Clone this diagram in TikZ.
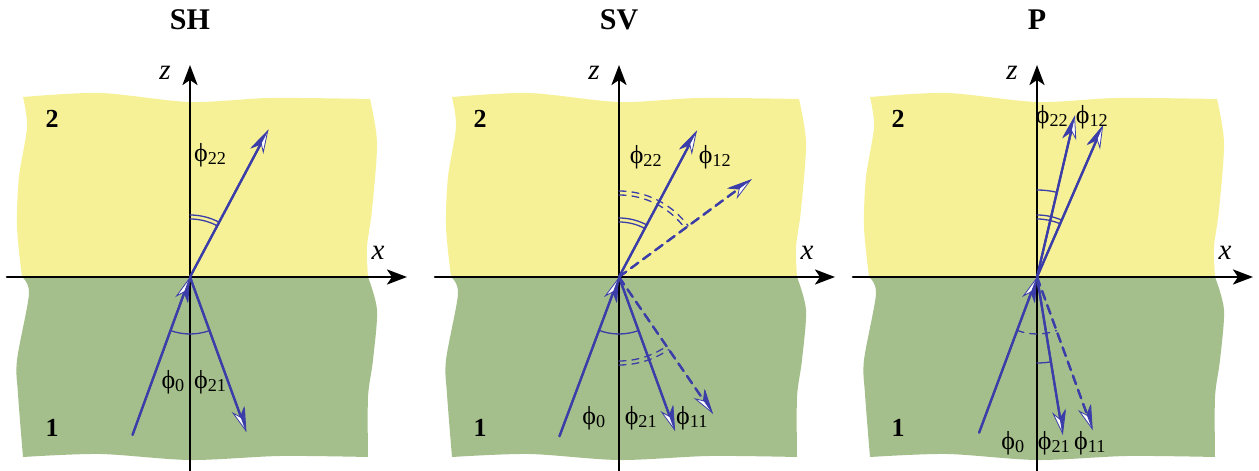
\documentclass[tikz,border=0pt]{standalone}
\usepackage{fontspec}
\setmainfont{Liberation Serif}
\usetikzlibrary{arrows.meta}
\definecolor{wvBlue}{HTML}{3B3DA8}
\definecolor{wvYellow}{HTML}{F6F196}
\definecolor{wvGreen}{HTML}{A4BF8B}
\newcommand{\ph}[1]{ϕ\textsubscript{#1}}
\newcommand{\slabs}{%
  \fill[wvYellow] (-168,0)
    -- plot[smooth] coordinates {(-168,0) (-173,50) (-171,100) (-163,150) (-167,180)}
    -- plot[smooth] coordinates {(-167,180) (-90,184) (0,175) (80,179) (180,178)}
    -- plot[smooth] coordinates {(180,178) (187,134) (182,67) (177,30) (178,0)} -- cycle;
  \fill[wvGreen] (-168,0) -- (178,0)
    -- plot[smooth] coordinates {(178,0) (187,-33) (183,-83) (178,-120) (178,-180)}
    -- plot[smooth] coordinates {(178,-180) (90,-179) (0,-183) (-90,-177) (-167,-180)}
    -- plot[smooth] coordinates {(-167,-180) (-172,-117) (-173,-83) (-161,-17) (-168,0)} -- cycle;
}

\begin{document}
\begin{tikzpicture}[x=1pt, y=1pt, line cap=round, line join=round,
    axis/.style={black, line width=2.6pt, -{Stealth[length=20pt, width=15pt, inset=5pt]}},
    tipw/.style={-{Stealth[length=24pt, width=14pt, inset=8pt, line width=0.8pt, fill=white]}},
    ray/.style={wvBlue, line width=2.2pt, tipw,
      postaction={draw, -{Stealth[harpoon, length=24pt, width=14pt, inset=8pt, line width=0.8pt, fill=wvBlue]}}},
    inray/.style={wvBlue, line width=2.2pt, tipw,
      postaction={draw, -{Stealth[harpoon, swap, length=24pt, width=14pt, inset=8pt, line width=0.8pt, fill=wvBlue]}}},
    dray/.style={ray, dash pattern=on 9pt off 6pt},
    angarc/.style={wvBlue, line width=1.3pt},
    dangarc/.style={angarc, dash pattern=on 7pt off 6pt},
    lbl/.style={font=\fontsize{26}{30}\selectfont, inner sep=0pt},
    axlbl/.style={font=\fontsize{29}{32}\selectfont\itshape, inner sep=0pt},
    medium/.style={font=\fontsize{26}{28}\selectfont\bfseries, inner sep=0pt},
    wavetitle/.style={font=\fontsize{30}{32}\selectfont\bfseries, inner sep=0pt}]
  \useasboundingbox (0,0) rectangle (1259,471);

  % ── SH ────────────────────────────────────────────────────────────────
  \begin{scope}[shift={(190,194)}]
    \slabs
    \draw[axis] (-183,0) -- (217,0);
    \draw[axis] (0,-194) -- (0,212);
    \node[axlbl] (zSH) at (-25,204) {z};
    \node[axlbl] (xSH) at (188,24) {x};
    \node[wavetitle] (tSH) at (0,257) {SH};
    \node[medium] at (-138,158) {2};
    \node[medium] at (-138,-151) {1};
    \coordinate (O) at (0,0);
    \coordinate (inc) at (-110:168);
    \coordinate (r21) at (-70:165);
    \coordinate (t22) at (62:167);
    \draw[angarc] (-110:57) arc[start angle=-110, end angle=-70, radius=57];
    \draw[angarc] (90:58) arc[start angle=90, end angle=62, radius=58]
                  (90:62) arc[start angle=90, end angle=62, radius=62];
    \draw[inray] (inc) -- (O);
    \draw[ray] (O) -- (r21);
    \draw[ray] (O) -- (t22);
    \node[lbl, anchor=west] at (4,122) {\ph{22}};
    \node[lbl, anchor=east] at (-5,-105) {\ph{0}};
    \node[lbl, anchor=west] at (4,-105) {\ph{21}};
  \end{scope}

  % ── SV ────────────────────────────────────────────────────────────────
  \begin{scope}[shift={(619,194)}]
    \slabs
    \draw[axis] (-184,0) -- (216,0);
    \draw[axis] (0,-194) -- (0,212);
    \node[axlbl] (zSV) at (-25,204) {z};
    \node[axlbl] (xSV) at (188,24) {x};
    \node[wavetitle] (tSV) at (0,257) {SV};
    \node[medium] at (-139,158) {2};
    \node[medium] at (-139,-151) {1};
    \coordinate (O) at (0,0);
    \coordinate (inc) at (-110.5:170);
    \coordinate (r21) at (-70:164);
    \coordinate (r11) at (-55.5:166);
    \coordinate (t22) at (62:166);
    \coordinate (t12) at (36.4:165);
    \draw[angarc] (-110.5:57) arc[start angle=-110.5, end angle=-70, radius=57];
    \draw[dangarc] (-90:84) arc[start angle=-90, end angle=-55.5, radius=84]
                   (-90:88) arc[start angle=-90, end angle=-55.5, radius=88];
    \draw[angarc] (90:55) arc[start angle=90, end angle=62, radius=55]
                  (90:59) arc[start angle=90, end angle=62, radius=59];
    \draw[dangarc] (90:82) arc[start angle=90, end angle=36.4, radius=82]
                   (90:86) arc[start angle=90, end angle=36.4, radius=86];
    \draw[inray] (inc) -- (O);
    \draw[ray] (O) -- (r21);
    \draw[dray] (O) -- (r11);
    \draw[ray] (O) -- (t22);
    \draw[dray] (O) -- (t12);
    \node[lbl] at (27,120) {\ph{22}};
    \node[lbl] at (96,120) {\ph{12}};
    \node[lbl] at (-25,-141) {\ph{0}};
    \node[lbl] at (22,-141) {\ph{21}};
    \node[lbl] at (73,-141) {\ph{11}};
  \end{scope}

  % ── P ─────────────────────────────────────────────────────────────────
  \begin{scope}[shift={(1037,194)}]
    \slabs
    \draw[axis] (-184,0) -- (216,0);
    \draw[axis] (0,-194) -- (0,212);
    \node[axlbl] (zP) at (-25,204) {z};
    \node[axlbl] (xP) at (188,24) {x};
    \node[wavetitle] (tP) at (0,257) {P};
    \node[medium] at (-139,158) {2};
    \node[medium] at (-139,-151) {1};
    \coordinate (O) at (0,0);
    \coordinate (inc) at (-110.4:166);
    \coordinate (r21) at (-80.7:160);
    \coordinate (r11) at (-70:163);
    \coordinate (t22) at (76.8:166);
    \coordinate (t12) at (66.5:166);
    \draw[dangarc] (-110.4:57) arc[start angle=-110.4, end angle=-70, radius=57];
    \draw[angarc] (-90:86) arc[start angle=-90, end angle=-80.7, radius=86];
    \draw[angarc] (90:87) arc[start angle=90, end angle=76.8, radius=87];
    \draw[angarc] (90:58) arc[start angle=90, end angle=66.5, radius=58]
                  (90:62) arc[start angle=90, end angle=66.5, radius=62];
    \draw[inray] (inc) -- (O);
    \draw[ray] (O) -- (r21);
    \draw[dray] (O) -- (r11);
    \draw[ray] (O) -- (t22);
    \draw[ray] (O) -- (t12);
    \node[lbl] at (15,160) {\ph{22}};
    \node[lbl] at (55,160) {\ph{12}};
    \node[lbl] at (-24,-166) {\ph{0}};
    \node[lbl] at (17,-166) {\ph{21}};
    \node[lbl] at (53,-166) {\ph{11}};
  \end{scope}
\end{tikzpicture}
\end{document}
